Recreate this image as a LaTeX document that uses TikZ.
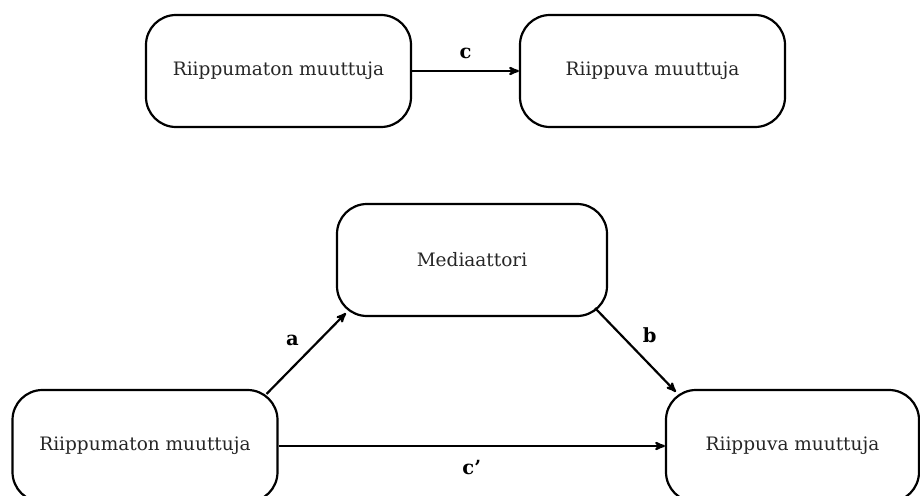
\documentclass[tikz,border=0pt]{standalone}
\usepackage{fontspec}
\setmainfont{DejaVu Serif}
\usetikzlibrary{arrows}

\begin{document}
\begin{tikzpicture}[x=1pt,y=-1pt,->,>=stealth',line width=2.2pt,
    muuttuja/.style={draw=black,rounded corners=30pt,minimum width=265pt,minimum height=112pt,
      text=black!85,font=\fontsize{18.5}{21}\selectfont},
    kerroin/.style={font=\bfseries\fontsize{19.5}{21}\selectfont,text=black}]
  \useasboundingbox (0,0) rectangle (920,495);
  \clip (0,0) rectangle (920,495);
  % kokonaisvaikutus
  \node[muuttuja] (X1) at (278.5,71) {Riippumaton muuttuja};
  \node[muuttuja] (Y1) at (652.5,71) {Riippuva muuttuja};
  \path (X1) edge node[kerroin,above=8pt] {c} (Y1);

  % mediaatiomalli
  \node[muuttuja,minimum width=270pt] (M)  at (472,260) {Mediaattori};
  \node[muuttuja] (X2) at (145,446) {Riippumaton muuttuja};
  \node[muuttuja,minimum width=253pt] (Y2) at (792.5,446) {Riippuva muuttuja};

  \draw ([shift={(-12,5)}]X2.north east) -- node[kerroin,above left=3pt] {a} ([shift={(10,-4)}]M.south west);
  \draw ([shift={(-13,-9)}]M.south east) -- node[kerroin,above right=3pt] {b} ([shift={(11,3)}]Y2.north west);
  \draw (X2.east) -- node[kerroin,below=10pt] {c’} (Y2.west);
\end{tikzpicture}
\end{document}
